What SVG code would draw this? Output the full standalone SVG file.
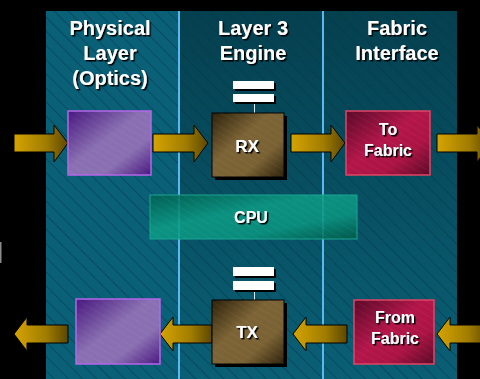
<svg xmlns="http://www.w3.org/2000/svg" width="480" height="379" viewBox="0 0 480 379">
<defs>
<style>
.title{font-family:"Liberation Sans",Arial,sans-serif;font-weight:bold;font-size:20px;fill:#fff;text-anchor:middle;filter:url(#sh)}
.lbl{font-family:"Liberation Sans",Arial,sans-serif;font-weight:bold;font-size:16px;fill:#fff;text-anchor:middle;filter:url(#sh)}
.arrow{fill:url(#gold);stroke:#000;stroke-width:1}
.bar{fill:#fff;filter:url(#bsh)}
.stem{stroke:#d8e8ec;stroke-width:1}
</style>
<filter id="sh" x="-20%" y="-20%" width="140%" height="140%"><feDropShadow dx="1.5" dy="1.5" stdDeviation="0" flood-color="#000"/></filter>
<filter id="bsh" x="-20%" y="-50%" width="140%" height="200%"><feDropShadow dx="2" dy="2" stdDeviation="0" flood-color="#000"/></filter>
<pattern id="hatch" width="10" height="10" patternUnits="userSpaceOnUse" patternTransform="rotate(-45)"><line x1="0" y1="0" x2="0" y2="10" stroke="#03384a" stroke-width="1"/></pattern>
<pattern id="hatchL" width="6" height="6" patternUnits="userSpaceOnUse" patternTransform="rotate(-60)"><line x1="0" y1="0" x2="0" y2="6" stroke="#fff" stroke-width="1" stroke-opacity="0.08"/></pattern>
<linearGradient id="mid" x1="0" y1="0" x2="0" y2="1"><stop offset="0" stop-color="#05404f"/><stop offset="1" stop-color="#0a5f75"/></linearGradient>
<linearGradient id="gold" x1="0" y1="0" x2="1" y2="0"><stop offset="0" stop-color="#d6a400"/><stop offset="0.6" stop-color="#a07c00"/><stop offset="1" stop-color="#5c4700"/></linearGradient>
<linearGradient id="purple" x1="0" y1="0" x2="1" y2="1"><stop offset="0" stop-color="#48187e"/><stop offset="0.45" stop-color="#8a70b2"/><stop offset="0.7" stop-color="#8a70b2"/><stop offset="1" stop-color="#4a1880"/></linearGradient>
<linearGradient id="brown" x1="0" y1="0" x2="1" y2="1"><stop offset="0" stop-color="#2e220c"/><stop offset="0.4" stop-color="#7d6436"/><stop offset="0.7" stop-color="#7a6234"/><stop offset="1" stop-color="#2e220c"/></linearGradient>
<linearGradient id="crimson" x1="0" y1="0" x2="1" y2="1"><stop offset="0" stop-color="#5a0a28"/><stop offset="0.45" stop-color="#b4164a"/><stop offset="0.7" stop-color="#ac1444"/><stop offset="1" stop-color="#5a0a28"/></linearGradient>
<linearGradient id="teal" x1="0" y1="0" x2="1" y2="1"><stop offset="0" stop-color="#006050"/><stop offset="0.4" stop-color="#0c9a84"/><stop offset="0.7" stop-color="#0a9480"/><stop offset="1" stop-color="#005848"/></linearGradient>
</defs>
<rect x="0" y="0" width="480" height="379" fill="#000"/>
<rect x="0" y="242" width="1.5" height="21" fill="#8a8a8a"/>
<g id="background">
<rect x="46" y="11" width="133" height="368" fill="#0a6077"/>
<rect x="179" y="11" width="278" height="368" fill="url(#mid)"/>
<rect x="46" y="11" width="411" height="368" fill="url(#hatch)"/>
<rect x="178" y="11" width="2" height="368" fill="#5ab8f0"/>
<rect x="322" y="11" width="2" height="368" fill="#5ab8f0"/>
</g>
<g id="titles">
<text class="title" x="110" y="35">Physical</text>
<text class="title" x="110" y="60">Layer</text>
<text class="title" x="110" y="85">(Optics)</text>
<text class="title" x="253" y="35">Layer 3</text>
<text class="title" x="253" y="60">Engine</text>
<text class="title" x="397" y="35">Fabric</text>
<text class="title" x="397" y="60">Interface</text>
</g>
<g id="connectors">
<polygon class="arrow" points="14,134 54,134 54,125 68,143 54,162 54,152 14,152"/>
<polygon class="arrow" points="153,134 194,134 194,125 208,143 194,162 194,152 153,152"/>
<polygon class="arrow" points="291,134 331,134 331,125 345,143 331,162 331,152 291,152"/>
<polygon class="arrow" points="437,134 477,134 477,125 491,143 477,162 477,152 437,152"/>
<polygon class="arrow" points="14,334 27,317 27,325 68,325 68,343 27,343 27,351"/>
<polygon class="arrow" points="160,334 173,317 173,325 212,325 212,343 173,343 173,351"/>
<polygon class="arrow" points="293,334 306,317 306,325 347,325 347,343 306,343 306,351"/>
<polygon class="arrow" points="437,334 450,317 450,325 490,325 490,343 450,343 450,351"/>
<line class="stem" x1="254.5" y1="102" x2="254.5" y2="113"/>
<line class="stem" x1="254.5" y1="290" x2="254.5" y2="300"/>
</g>
<g id="rx-buffers">
<rect class="bar" x="233" y="81" width="41" height="8"/>
<rect class="bar" x="233" y="94" width="41" height="8"/>
</g>
<g id="tx-buffers">
<rect class="bar" x="233" y="267" width="41" height="9"/>
<rect class="bar" x="233" y="281" width="41" height="9"/>
</g>
<g id="phys-rx">
<rect x="68" y="111" width="83" height="64" fill="url(#purple)" stroke="#b466ea" stroke-width="1.5"/>
<rect x="68" y="111" width="83" height="64" fill="url(#hatchL)"/>
</g>
<g id="rx">
<rect x="215" y="116" width="72" height="64" fill="#000"/>
<rect x="212" y="113" width="72" height="64" fill="url(#brown)" stroke="#000" stroke-width="1"/>
<rect x="212" y="113" width="72" height="64" fill="url(#hatchL)"/>
<text class="lbl" x="247" y="152" style="font-size:17px">RX</text>
</g>
<g id="to-fabric">
<rect x="346" y="111" width="84" height="64" fill="url(#crimson)" stroke="#e04466" stroke-width="1.5"/>
<rect x="346" y="111" width="84" height="64" fill="url(#hatchL)"/>
<text class="lbl" x="388" y="135">To</text>
<text class="lbl" x="388" y="156">Fabric</text>
</g>
<g id="cpu">
<rect x="150" y="195" width="207" height="44" fill="url(#teal)" fill-opacity="0.88" stroke="#1aa592" stroke-width="1"/>
<rect x="150" y="195" width="207" height="44" fill="url(#hatchL)"/>
<text class="lbl" x="251" y="223">CPU</text>
</g>
<g id="phys-tx">
<rect x="76" y="299" width="84" height="65" fill="url(#purple)" stroke="#b466ea" stroke-width="1.5"/>
<rect x="76" y="299" width="84" height="65" fill="url(#hatchL)"/>
</g>
<g id="tx">
<rect x="215" y="303" width="72" height="64" fill="#000"/>
<rect x="212" y="300" width="72" height="64" fill="url(#brown)" stroke="#000" stroke-width="1"/>
<rect x="212" y="300" width="72" height="64" fill="url(#hatchL)"/>
<text class="lbl" x="247" y="338" style="font-size:17px">TX</text>
</g>
<g id="from-fabric">
<rect x="354" y="300" width="80" height="64" fill="url(#crimson)" stroke="#e04466" stroke-width="1.5"/>
<rect x="354" y="300" width="80" height="64" fill="url(#hatchL)"/>
<text class="lbl" x="395" y="323">From</text>
<text class="lbl" x="395" y="344">Fabric</text>
</g>
</svg>
